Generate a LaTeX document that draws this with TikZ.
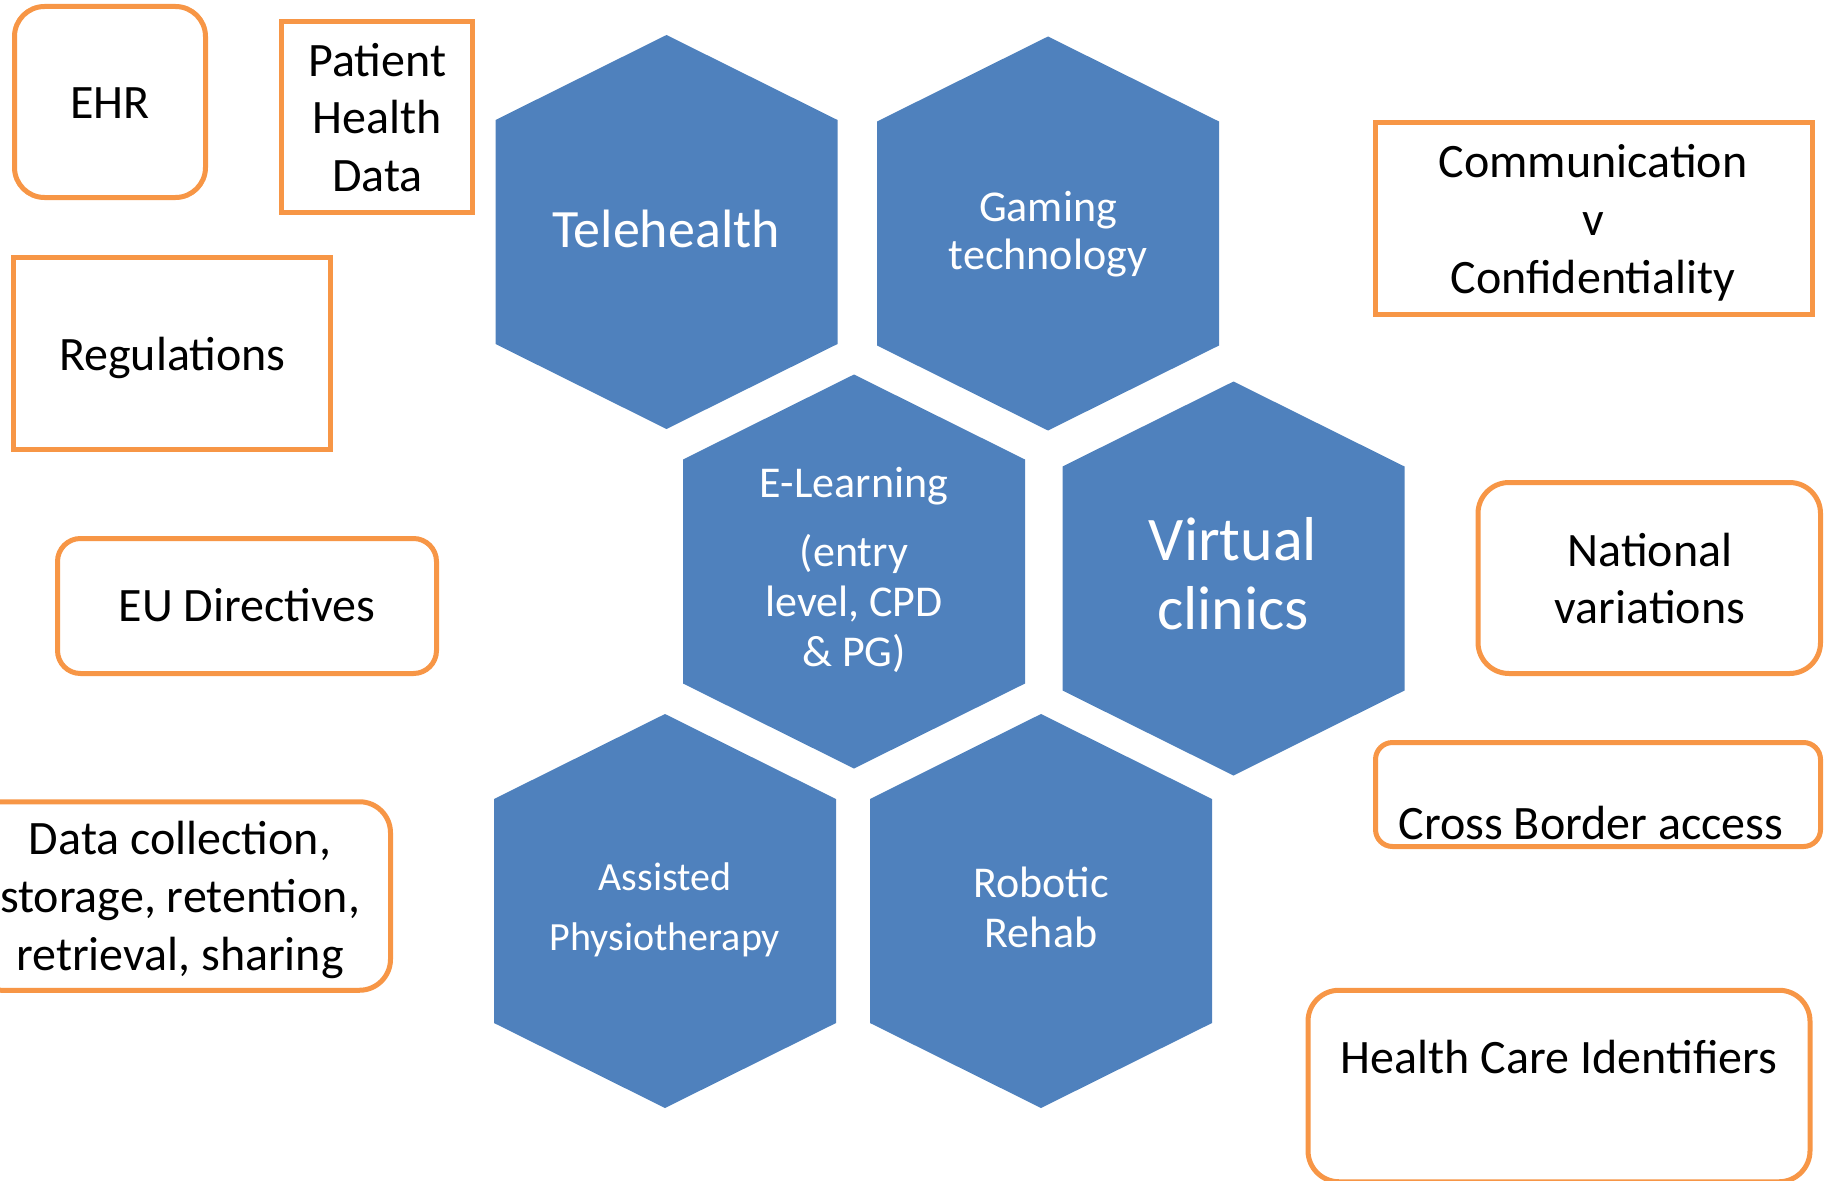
\documentclass[tikz,border=0pt]{standalone}
\usepackage{fontspec}
\setmainfont{Carlito}
\definecolor{hexblue}{HTML}{4F81BD}
\definecolor{boxorange}{HTML}{F79646}
\tikzset{
  box/.style={draw=boxorange, line width=5pt, fill=white, inner sep=0pt},
  squarebox/.style={box},
  roundbox/.style={box, rounded corners=#1},
  % multi-line texts sit on the baseline of their last line
  boxtext/.style={anchor=base, inner sep=0pt, align=center, text=black,
    font=\fontsize{48}{58}\selectfont},
  hextext/.style={anchor=base, inner sep=0pt, align=center, text=white},
  hexfill/.style={fill=hexblue},
}
% hexagon cell centred at (#1,#2): 342 wide, 392 tall, pointed top and bottom
\newcommand\hexcell[2]{%
  \fill[hexfill] (#1,#2) ++(0,-196) -- ++(171,85) -- ++(0,224) -- ++(-171,85)
    -- ++(-171,-85) -- ++(0,-224) -- cycle;}
\begin{document}
\begin{tikzpicture}[x=1pt, y=-1pt]
\useasboundingbox (0,0) rectangle (1827,1180);
\clip (0,0) rectangle (1827,1180);

% honeycomb
\hexcell{666.5}{231}
\hexcell{1048}{232.5}
\hexcell{854}{570.5}
\hexcell{1233.5}{577.5}
\hexcell{665}{910}
\hexcell{1041}{910}

\node[hextext, font=\fontsize{54}{65}\selectfont] (tele) at (666,247) {Telehealth};
\node[hextext, font=\fontsize{44}{48}\selectfont] (game) at (1048,269) {Gaming\\technology};
\node[hextext, font=\fontsize{44}{50}\selectfont] (elearn) at (854,666)
  {E-Learning\\[19pt](entry\\level, CPD\\\& PG)};
\node[hextext, font=\fontsize{62}{69}\selectfont] (virtual) at (1233,629) {Virtual\\clinics};
\node[hextext, font=\fontsize{40}{60}\selectfont] (assist) at (665,950.5) {Assisted\\Physiotherapy};
\node[hextext, font=\fontsize{44}{50}\selectfont] (robot) at (1041,947) {Robotic\\Rehab};

% left column of themes
\node[roundbox=30pt, minimum width=191pt, minimum height=191pt] (ehr) at (110,102) {};
\node[squarebox, minimum width=191pt, minimum height=191pt] (phd) at (377,117) {};
\node[squarebox, minimum width=317pt, minimum height=192pt] (regs) at (172,353.5) {};
\node[roundbox=23pt, minimum width=379pt, minimum height=135pt] (eu) at (247,606) {};
\node[roundbox=31pt, minimum width=420.5pt, minimum height=188.5pt] (data) at (180.25,896) {};

\node[boxtext] (ehrtxt) at (110,118) {EHR};
\node[boxtext, font=\fontsize{48}{57.5}\selectfont] (phdtxt) at (377.5,191) {Patient\\Health\\Data};
\node[boxtext] (regstxt) at (172.5,370) {Regulations};
\node[boxtext] (eutxt) at (247,621.5) {EU Directives};
\node[boxtext] (datatxt) at (180,970) {Data collection,\\storage, retention,\\retrieval, sharing};

% right column of themes
\node[squarebox, minimum width=437pt, minimum height=192pt] (comm) at (1594,218.5) {};
\node[roundbox=31pt, minimum width=342.5pt, minimum height=191pt] (natl) at (1649.25,578) {};
\node[roundbox=17pt, minimum width=445pt, minimum height=104pt] (cross) at (1598,794.5) {};
\node[roundbox=31pt, minimum width=502pt, minimum height=191.5pt] (hci) at (1559,1086) {};

\node[boxtext, font=\fontsize{48}{57.7}\selectfont] (commtxt) at (1593,293) {Communication\\v\\Confidentiality};
\node[boxtext, font=\fontsize{48}{57.5}\selectfont] (natltxt) at (1650,623.5) {National\\variations};
\node[boxtext] (crosstxt) at (1591,839) {Cross Border access};
\node[boxtext] (hcitxt) at (1559,1073) {Health Care Identifiers};
\end{tikzpicture}
\end{document}
